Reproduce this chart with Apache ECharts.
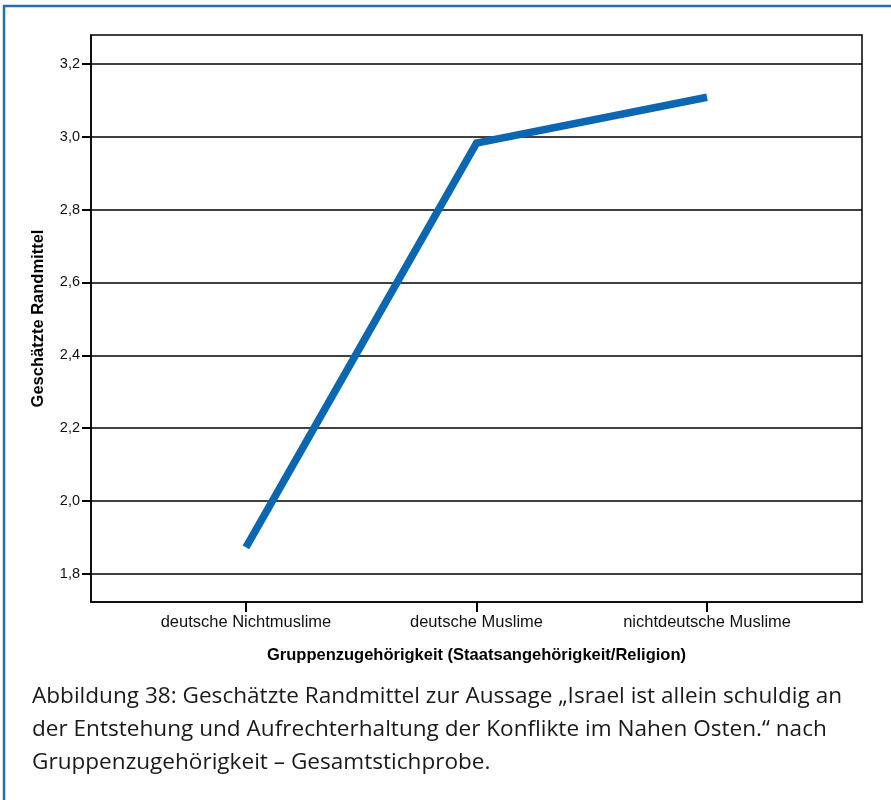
<!DOCTYPE html>
<html>
<head>
<meta charset="utf-8">
<script src="https://cdn.jsdelivr.net/npm/echarts@6/dist/echarts.min.js"></script>
<style>
html,body{margin:0;padding:0;background:#fff;}
#c{width:891px;height:800px;}
</style>
</head>
<body>
<div id="c"></div>
<script>
const categories = ['deutsche Nichtmuslime', 'deutsche Muslime', 'nichtdeutsche Muslime'];
const values = [1.872, 2.983, 3.109];
const yTicks = [1.8, 2.0, 2.2, 2.4, 2.6, 2.8, 3.0, 3.2];
const captionLines = [
  'Abbildung 38: Geschätzte Randmittel zur Aussage „Israel ist allein schuldig an',
  'der Entstehung und Aufrechterhaltung der Konflikte im Nahen Osten.“ nach',
  'Gruppenzugehörigkeit – Gesamtstichprobe.'
];

const chart = echarts.init(document.getElementById('c'), null, {renderer: 'canvas'});
const data = values.map((v, i) => [i, v]);

chart.setOption({
  animation: false,
  backgroundColor: '#fff',
  grid: {
    left: 91, right: 29, top: 35, bottom: 198,
    show: true, borderColor: '#000', borderWidth: 1.5, backgroundColor: 'transparent'
  },
  xAxis: {
    type: 'value',
    min: -0.672, max: 2.672,
    name: 'Gruppenzugehörigkeit (Staatsangehörigkeit/Religion)',
    nameLocation: 'middle',
    nameGap: 45,
    nameTextStyle: {fontFamily: 'Liberation Sans', fontSize: 16.5, fontWeight: 'bold', color: '#000'},
    axisLine: {show: true, onZero: false, lineStyle: {color: '#000', width: 1.5}},
    axisTick: {show: true, length: 10, lineStyle: {color: '#000', width: 2}, customValues: [0, 1, 2]},
    axisLabel: {
      customValues: [0, 1, 2],
      formatter: v => categories[Math.round(v)] || '',
      fontFamily: 'Liberation Sans', fontSize: 16.5, color: '#111', margin: 12
    },
    splitLine: {show: false}
  },
  yAxis: {
    type: 'value',
    min: 1.722, max: 3.280,
    name: 'Geschätzte Randmittel',
    nameLocation: 'middle',
    nameGap: 44,
    nameRotate: 90,
    nameTextStyle: {fontFamily: 'Liberation Sans', fontSize: 16.5, fontWeight: 'bold', color: '#000'},
    axisLine: {show: true, onZero: false, lineStyle: {color: '#000', width: 1.5}},
    axisTick: {show: true, length: 9, lineStyle: {color: '#000', width: 2}, customValues: yTicks},
    axisLabel: {
      customValues: yTicks,
      formatter: v => v.toFixed(1).replace('.', ','),
      fontFamily: 'Liberation Sans', fontSize: 14.5, color: '#111', margin: 11
    },
    splitLine: {show: true, lineStyle: {color: '#000', width: 1.5}}
  },
  series: [{
    type: 'line',
    data: data,
    symbol: 'none',
    lineStyle: {color: '#0b67b2', width: 7.5, cap: 'butt', join: 'miter'},
    z: 5
  }],
  graphic: [
    {
      type: 'rect', silent: true,
      shape: {x: 4, y: 6, width: 1000, height: 1000},
      style: {fill: 'none', stroke: '#1f6fb2', lineWidth: 2.5}
    },
    ...captionLines.map((t, i) => ({
      type: 'text', silent: true,
      x: 32, y: 697 + i * 33,
      scaleX: 1.05,
      style: {text: t, fontFamily: 'Open Sans', fontSize: 21.5, fill: '#1a1a1a', verticalAlign: 'middle'}
    }))
  ]
});
</script>
</body>
</html>
